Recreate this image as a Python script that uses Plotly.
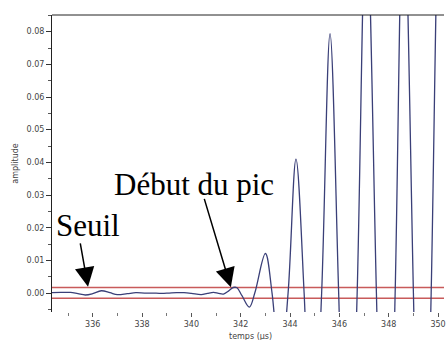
import plotly.graph_objects as go

# Signal amplitude versus time (µs)
temps = [
    334.35, 334.7, 335.1, 335.4, 335.7, 336.0, 336.35, 336.7, 337.0, 337.4,
    337.75, 338.1, 338.4, 338.8, 339.1, 339.4, 339.7, 340.0, 340.4, 340.65,
    340.9, 341.1, 341.3, 341.5, 341.7, 341.85, 342.05, 342.35, 342.57, 343.0,
    343.27, 343.6, 343.92, 344.24, 344.57, 344.9, 345.28, 345.62, 345.97, 346.33,
    346.72, 347.09, 347.5, 347.87, 348.26, 348.6, 349.0, 349.35, 349.72, 350.08,
    350.45,
]
amplitude = [
    0.0001, 0.0002, 0.0002, -0.0002, -0.0006, -0.0002, 0.0007, 0.0001, -0.0005, -0.0002,
    0.0001, 0.0000, 0.0000, -0.0001, 0.0000, 0.0001, 0.0001, -0.0001, -0.0005, -0.0001,
    0.0002, -0.0001, -0.0003, 0.0006, 0.0017, 0.0016, -0.0008, -0.0043, 0.0000, 0.0121,
    0.0000, -0.024, 0.0000, 0.041, 0.0000, -0.060, 0.0000, 0.0794, 0.0000, -0.095,
    0.0000, 0.118, 0.0000, -0.120, 0.0000, 0.125, 0.0000, -0.130, 0.0000, 0.130,
    0.0000,
]

# Detection thresholds
seuils = [0.0017, -0.0016]

# Axis ticks
x_ticks = [336, 338, 340, 342, 344, 346, 348, 350]
y_ticks = [0.00, 0.01, 0.02, 0.03, 0.04, 0.05, 0.06, 0.07, 0.08]
y_labels = [f"{v:.2f}" for v in y_ticks]

x_range = [334.35, 350.24]
y_range = [-0.0058, 0.0851]

# Annotated points: (time, amplitude) of arrow tips
seuil_point = (335.81, 0.0019)
debut_point = (341.60, 0.00174)

fig = go.Figure()

fig.add_trace(go.Scatter(
    x=temps, y=amplitude, mode="lines",
    line=dict(color="#3a3f78", width=1.3, shape="spline", smoothing=1.0),
    hoverinfo="skip", showlegend=False,
))

tick_font = dict(family="DejaVu Sans, Arial, sans-serif", size=8, color="#444")
serif = "Palatino Linotype, Book Antiqua, Palatino, Liberation Serif, serif"

# Threshold lines plus the top border of the frame
shapes = [dict(type="line", xref="paper", yref="y", x0=0, x1=1, y0=s, y1=s,
               layer="below", line=dict(color="#c85a5a", width=1.5)) for s in seuils]
shapes.append(dict(type="line", xref="paper", yref="paper", x0=0, x1=1, y0=1, y1=1,
                   line=dict(color="#222", width=1)))

fig.update_layout(
    width=446, height=340,
    margin=dict(l=52, r=0, t=15, b=28),
    paper_bgcolor="white", plot_bgcolor="white",
    xaxis=dict(
        range=x_range, tickvals=x_ticks, ticktext=[str(v) for v in x_ticks],
        ticks="outside", ticklen=4, tickcolor="#555", tickwidth=1,
        minor=dict(dtick=1, tick0=335, ticks="outside", ticklen=3, tickcolor="#777"),
        showline=False, showgrid=False, zeroline=False, tickfont=tick_font,
        ticklabeloverflow="allow",
    ),
    yaxis=dict(
        range=y_range, tickvals=y_ticks, ticktext=y_labels,
        ticks="outside", ticklen=5, tickcolor="#333", tickwidth=1,
        minor=dict(dtick=0.005, tick0=0, ticks="outside", ticklen=3, tickcolor="#555"),
        showline=True, linecolor="#222", linewidth=1,
        showgrid=False, zeroline=False, tickfont=tick_font,
    ),
    shapes=shapes,
)

annotations = [
    dict(text="Seuil", x=334.43, y=0.0206, xref="x", yref="y",
         xanchor="left", yanchor="middle", showarrow=False,
         font=dict(family=serif, size=31, color="black")),
    dict(text="Début du pic", x=336.80, y=0.0331, xref="x", yref="y",
         xanchor="left", yanchor="middle", showarrow=False,
         font=dict(family=serif, size=31, color="black")),
    dict(text="", x=seuil_point[0], y=seuil_point[1], xref="x", yref="y",
         showarrow=True, ax=-8, ay=-45, arrowhead=2, arrowsize=2.6,
         arrowwidth=1.5, arrowcolor="black"),
    dict(text="", x=debut_point[0], y=debut_point[1], xref="x", yref="y",
         showarrow=True, ax=-27, ay=-90, arrowhead=2, arrowsize=2.6,
         arrowwidth=1.5, arrowcolor="black"),
    dict(text="amplitude", x=-0.094, y=0.5, xref="paper", yref="paper",
         textangle=-90, showarrow=False, xanchor="center", yanchor="middle",
         font=dict(family="DejaVu Sans, Arial, sans-serif", size=8, color="#444")),
    dict(text="temps (µs)", x=0.5075, y=-0.084, xref="paper", yref="paper",
         showarrow=False, xanchor="center", yanchor="middle",
         font=dict(family="DejaVu Sans, Arial, sans-serif", size=8, color="#444")),
]
fig.update_layout(annotations=annotations)

fig.write_html("out.html")
